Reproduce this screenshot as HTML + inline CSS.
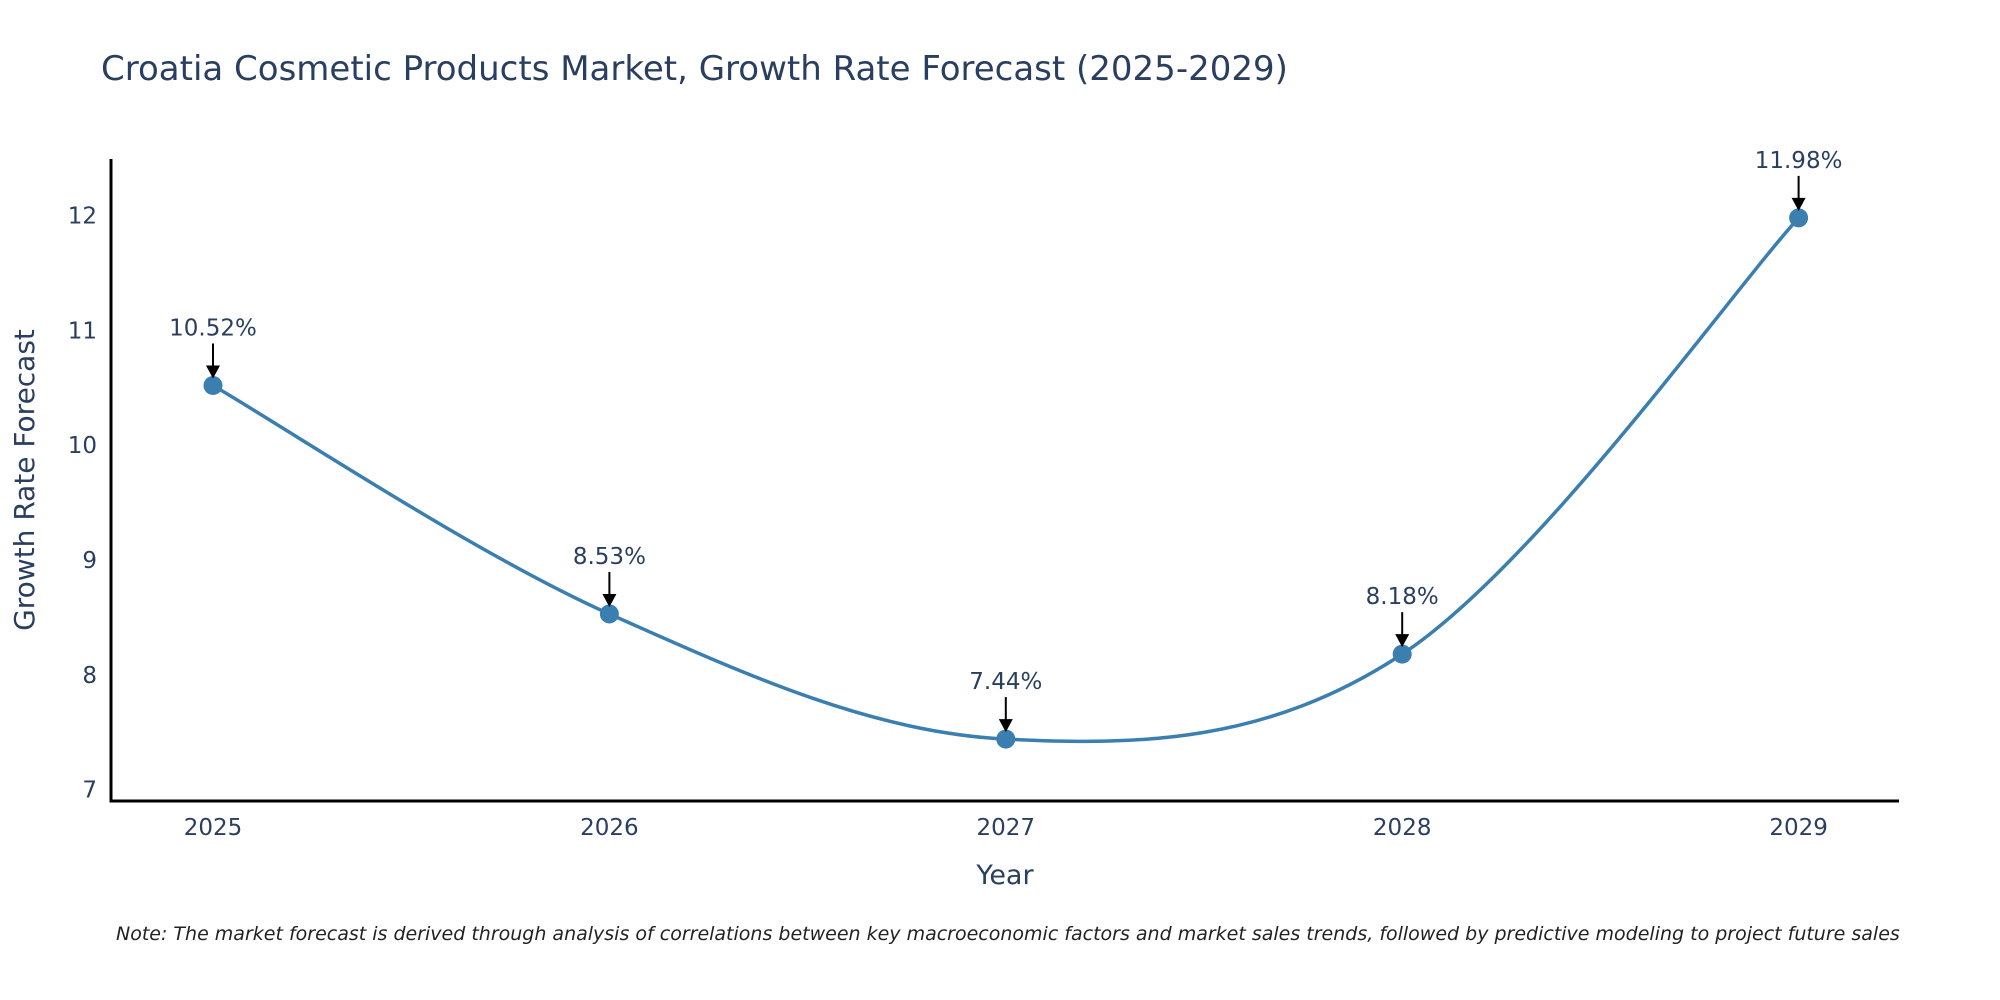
<!DOCTYPE html>
<html><head><meta charset="utf-8"><style>
body{margin:0;background:#fff}
svg{display:block;font-family:"DejaVu Sans","Liberation Sans",sans-serif}
</style></head><body>
<svg id="c" width="2000" height="1000">
<text x="101" y="80" font-size="34" fill="#2a3f5f">Croatia Cosmetic Products Market, Growth Rate Forecast (2025-2029)</text>
<g id="plot"></g>
<text x="34" y="480" font-size="28" fill="#2a3f5f" text-anchor="middle" transform="rotate(-90 34 480)">Growth Rate Forecast</text>
<text x="1005" y="884" font-size="27" fill="#2a3f5f" text-anchor="middle">Year</text>
<text x="116" y="940" font-size="19" font-style="italic" fill="#222">Note: The market forecast is derived through analysis of correlations between key macroeconomic factors and market sales trends, followed by predictive modeling to project future sales</text>
</svg>
<script>
const years=[2025,2026,2027,2028,2029];
const values=[10.52,8.53,7.44,8.18,11.98];
const labels=["10.52%","8.53%","7.44%","8.18%","11.98%"];
const yTicks=[7,8,9,10,11,12];
const NS="http://www.w3.org/2000/svg";
const g=document.getElementById('plot');
const X0=111,X1=1899,Y0=801,Y1=159;
const xs=y=>213+(y-2025)*396.4;
const ys=v=>789.6-(v-7)*114.8;
function mk(t,a,p){const e=document.createElementNS(NS,t);for(const k in a)e.setAttribute(k,a[k]);(p||g).appendChild(e);return e;}
let ax=mk('path',{d:`M${X0} ${Y1}V${Y0}H${X1}`,stroke:'#000','stroke-width':3,fill:'none'});


yTicks.forEach(t=>{const e=mk('text',{x:X0-14,y:ys(t)+8,'font-size':23,fill:'#2a3f5f','text-anchor':'end'});e.textContent=t;

});
years.forEach(y=>{const e=mk('text',{x:xs(y),y:835,'font-size':23,fill:'#2a3f5f','text-anchor':'middle'});e.textContent=y;

});
const P=years.map((y,i)=>[xs(y),ys(values[i])]);
let d=`M${P[0][0]} ${P[0][1]}`;const s=0.17;
for(let i=0;i<P.length-1;i++){const p0=P[Math.max(i-1,0)],p1=P[i],p2=P[i+1],p3=P[Math.min(i+2,P.length-1)];
d+=` C${p1[0]+(p2[0]-p0[0])*s} ${p1[1]+(p2[1]-p0[1])*s} ${p2[0]-(p3[0]-p1[0])*s} ${p2[1]-(p3[1]-p1[1])*s} ${p2[0]} ${p2[1]}`;}
const ln=mk('path',{d:d,stroke:'#3a7fb0','stroke-width':3.5,fill:'none'});


P.forEach((p,i)=>{
const c=mk('circle',{cx:p[0],cy:p[1],r:9.5,fill:'#3a7fb0'});


const a=mk('path',{d:`M${p[0]} ${p[1]-42}V${p[1]-18}`,stroke:'#000','stroke-width':2});


const h=mk('path',{d:`M${p[0]-7} ${p[1]-20}L${p[0]+7} ${p[1]-20}L${p[0]} ${p[1]-7}Z`,fill:'#000'});


const t=mk('text',{x:p[0],y:p[1]-50,'font-size':23,fill:'#2a3f5f','text-anchor':'middle'});t.textContent=labels[i];


});
</script>
</body></html>
